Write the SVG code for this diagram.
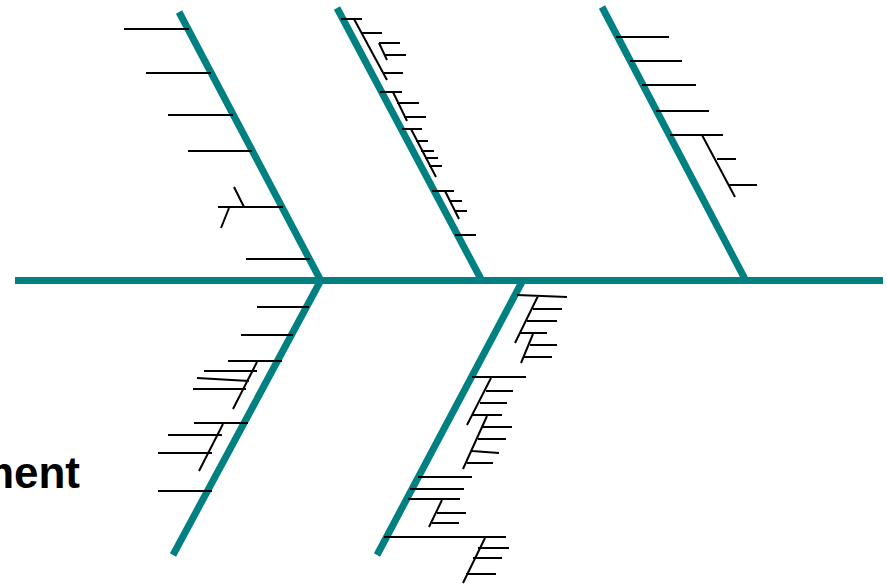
<svg xmlns="http://www.w3.org/2000/svg" width="887" height="584" viewBox="0 0 887 584">
<style>
.bone{stroke:#008080;stroke-width:7;fill:none;stroke-linecap:butt}
.rib{stroke:#000;stroke-width:2;fill:none}
.lbl{font-family:"Liberation Sans",Arial,sans-serif;font-weight:bold;font-size:44px;fill:#000}
</style>
<rect width="887" height="584" fill="#fff"/>
<g id="connectors">
<line class="bone" x1="15" y1="280.5" x2="883" y2="280.5"/>
<line class="bone" x1="179" y1="12" x2="321" y2="281"/>
<line class="bone" x1="337" y1="8" x2="482" y2="281"/>
<line class="bone" x1="602" y1="7" x2="746" y2="281"/>
<line class="bone" x1="321" y1="280" x2="173" y2="555"/>
<line class="bone" x1="523" y1="280" x2="377" y2="555"/>
</g>
<g id="cause1">
<path class="rib" d="M124 29H189 M146 73H211 M168 115H233 M188 151H252 M218 207H283 M234 187L244 207 M229 208L221 228 M246 259H310"/>
</g>
<g id="cause2">
<path class="rib" d="M341 19H362 M354 19L387 80 M362 33H382 M379 43L387 60 M379 43H400 M385 55H406 M383 73H403 M380 92H402 M393 92L407 121 M397 103H419 M404 117H426 M402 129H422 M411 129L436 177 M416 141H428 M421 151H434 M425 158H438 M429 166H442 M432 191H454 M445 191L459 219 M450 201H462 M455 211H467 M455 235H476"/>
</g>
<g id="cause3">
<path class="rib" d="M616 37H669 M630 61H682 M642 85H696 M656 111H709 M670 135H723 M702 135L735 197 M717 159H736 M728 185H757"/>
</g>
<g id="cause4">
<path class="rib" d="M257 307H309 M241 335H293 M228 361H282 M257 362L233 409 M204 371H257 M197 378L249 381 M193 389H246 M194 423H248 M223 424L199 471 M168 435H222 M158 453H212 M158 491H212"/>
</g>
<g id="cause5">
<path class="rib" d="M517 295L567 297 M538 296L515 343 M533 309H562 M527 321H557 M520 333H547 M533 334L521 363 M530 345H557 M524 357H552 M472 377H526 M491 378L467 425 M486 391H513 M480 403H507 M472 415H502 M487 416L463 469 M483 427H512 M478 439H506 M472 451L499 453 M467 463H493 M418 477H472 M410 489H464 M408 499H460 M442 500L429 527 M437 513H466 M432 523H459 M384 537H506 M485 538L463 583 M478 548H509 M473 558H502 M466 574H496"/>
</g>
<g id="label">
<text class="lbl" x="80" y="488" text-anchor="end">ment</text>
</g>
</svg>
